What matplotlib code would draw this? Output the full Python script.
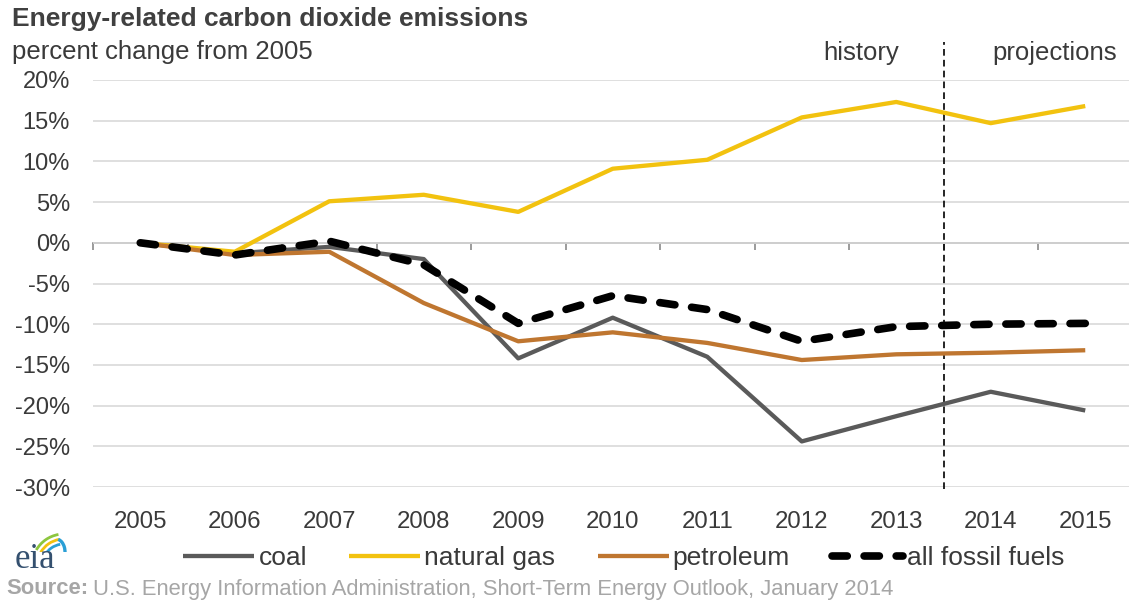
import numpy as np
import matplotlib.pyplot as plt
import matplotlib.transforms as mtransforms
from matplotlib.patches import Arc

plt.rcParams['font.family'] = ['Liberation Sans', 'DejaVu Sans']

# percent change in energy-related CO2 emissions from 2005
years = list(range(2005, 2016))
coal = [0, -1.3, -0.5, -2.0, -14.2, -9.2, -14.0, -24.4, -21.3, -18.3, -20.6]
natural_gas = [0, -1.1, 5.1, 5.9, 3.8, 9.1, 10.2, 15.4, 17.3, 14.7, 16.8]
petroleum = [0, -1.5, -1.1, -7.4, -12.1, -11.0, -12.3, -14.4, -13.7, -13.5, -13.2]
all_fossil = [0, -1.5, 0.2, -2.7, -9.9, -6.5, -8.2, -12.1, -10.3, -10.0, -9.9]
y_ticks = list(range(-30, 25, 5))
projection_start = 2013.5

W, H = 1129, 604
text_color = '#3a3a3a'

fig = plt.figure(figsize=(W / 100, H / 100), dpi=100)
ax = fig.add_axes([93 / W, 117 / H, 1036 / W, 407 / H])

ax.plot(years, coal, color='#5a5a5a', lw=3.1, label='coal', solid_capstyle='butt')
ax.plot(years, natural_gas, color='#f2c20f', lw=3.1, label='natural gas', solid_capstyle='butt')
ax.plot(years, petroleum, color='#bf7630', lw=3.1, label='petroleum', solid_capstyle='butt')
ax.plot(years, all_fossil, color='black', lw=5.5, label='all fossil fuels',
        linestyle=(0, (2.0, 2.2)), dash_capstyle='round')

# history / projections divider reaching above the plot area
ax.axvline(projection_start, ymin=-0.006, ymax=1.094, color='black', lw=1.2,
           linestyle=(0, (4, 2.5)), clip_on=False, zorder=1)

ax.set_xlim(2004.5, 2004.5 + 1036 / 94.5)
ax.set_ylim(-30, 20)

ax.set_yticks(y_ticks)
ax.set_yticklabels([f'{v}%' for v in y_ticks])
ax.yaxis.grid(True, color='#d9d9d9', lw=1.2)
ax.set_axisbelow(True)
ax.tick_params(axis='y', length=0, pad=16.5, labelsize=17, labelcolor=text_color)

for side in ['left', 'right', 'top']:
    ax.spines[side].set_visible(False)
ax.spines['bottom'].set_position(('data', 0))
ax.spines['bottom'].set_color('#8a8a8a')
ax.spines['bottom'].set_linewidth(1.2)
ax.spines['bottom'].set_zorder(0.5)
ax.set_xticks(years)
ax.set_xticklabels([])
ax.tick_params(axis='x', which='major', length=0)
ax.set_xticks(np.arange(2004.5, 2015.5, 1), minor=True)
ax.tick_params(axis='x', which='minor', length=5, width=1.2, color='#8a8a8a')

# year labels sit along the bottom of the chart
trans = mtransforms.blended_transform_factory(ax.transData, fig.transFigure)
for yr in years:
    ax.text(yr, 1 - 522 / H, str(yr), transform=trans, ha='center', va='center',
            fontsize=17.3, color=text_color)

fig.text(12 / W, 1 - 19 / H, 'Energy-related carbon dioxide emissions',
         fontsize=19, fontweight='bold', color='#404040', va='center')
fig.text(12 / W, 1 - 52 / H, 'percent change from 2005', fontsize=18.5,
         color=text_color, va='center')
fig.text(861 / W, 1 - 53 / H, 'history', fontsize=18.5, color=text_color,
         ha='center', va='center')
fig.text(1055 / W, 1 - 53 / H, 'projections', fontsize=18.5, color=text_color,
         ha='center', va='center')

fig.legend(loc='center', bbox_to_anchor=(624 / W, 1 - 558 / H), ncol=4,
           frameon=False, fontsize=19, handlelength=2.7, handletextpad=0.15,
           columnspacing=1.6, labelcolor=text_color, borderpad=0)

# source line
src = fig.text(6 / W, 1 - 589 / H, 'Source:', fontsize=15.8, fontweight='bold',
               color='#a6a6a6', va='center')
fig.canvas.draw()
bb = src.get_window_extent()
fig.text((bb.x1 + 5) / W, 1 - 589 / H,
         'U.S. Energy Information Administration, Short-Term Energy Outlook, January 2014',
         fontsize=15.8, color='#a6a6a6', va='center')

# eia logo
fig.text(15 / W, 1 - 568 / H, 'eia', fontsize=25, family='Liberation Serif',
         color='#34506f', va='baseline')
logo = fig.add_axes([22 / W, 1 - 552 / H, 46 / W, 24 / H])
logo.set_xlim(0, 46)
logo.set_ylim(0, 24)
logo.axis('off')
for r, c in [(32, '#8dc63f'), (27, '#f2c20f'), (22, '#2a9fd6')]:
    logo.add_patch(Arc((42, -14), 2 * r, 2 * r, theta1=100, theta2=150, color=c, lw=2.0))
logo.add_patch(Arc((34, 0), 18, 26, theta1=-40, theta2=80, color='#2a9fd6', lw=2.4))

fig.savefig('out.png', dpi=100)
